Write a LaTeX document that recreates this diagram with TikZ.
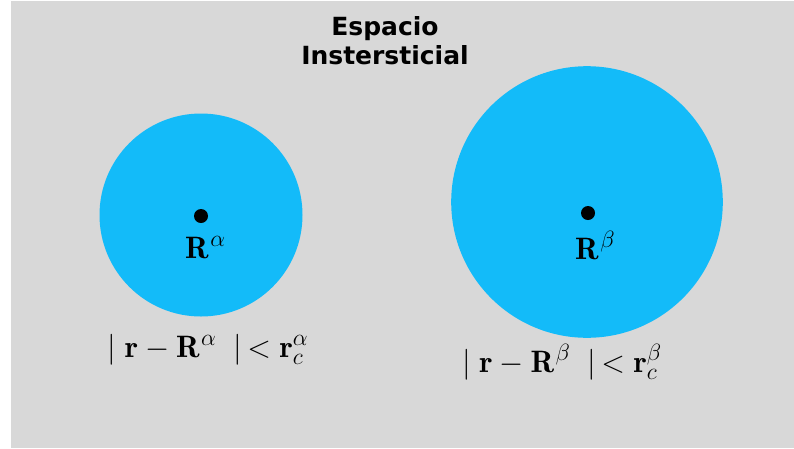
\documentclass[tikz,border=0pt]{standalone}
\usepackage{fix-cm}
\usepackage{amsmath}
\usepackage{fontspec}
\newfontfamily\titlefont{DejaVu Sans}
\DeclareMathSizes{31}{31}{23.5}{17}
\definecolor{bggray}{HTML}{D8D8D8}
\definecolor{sphereblue}{HTML}{13BBF9}
\tikzset{
  sphere/.style={fill=sphereblue, draw=none},
  centerdot/.style={fill=black, draw=none},
  titletext/.style={font=\titlefont\bfseries\fontsize{25}{29}\selectfont, inner sep=0pt, anchor=base},
  mathlabel/.style={font=\fontsize{31}{37}\selectfont, inner sep=0pt, anchor=base west},
  condition/.style={font=\fontsize{31}{37}\selectfont, inner sep=0pt, anchor=base}
}
\begin{document}
\begin{tikzpicture}[x=1pt,y=-1pt]
\useasboundingbox (0,0) rectangle (794,448);
\fill[white] (0,0) rectangle (794,448);
\fill[bggray] (11,1) rectangle (794,448);
% spheres
\fill[sphere] (201,215) circle[radius=101.5];
\fill[sphere] (587,202) circle[radius=135.8];
% centres
\fill[centerdot] (201,216) circle[radius=7];
\fill[centerdot] (588,213) circle[radius=7];
% title
\node[titletext] (title1) at (385,35) {Espacio};
\node[titletext] (title2) at (385,64) {Instersticial};
% labels
\node[mathlabel] (ralpha) at (185,258) {$\mathbf{R}^{\kern1.5pt\alpha}$};
\node[mathlabel] (rbeta) at (575,259) {$\mathbf{R}^{\kern1.5pt\beta}$};
\node[condition] (condalpha) at (208,357) {$\mid\mathbf{r}-\mathbf{R}^{\kern1.5pt\alpha}\;\mid\,<\mathbf{r}_c^{\alpha}$};
\node[condition] (condbeta) at (562,372) {$\mid\mathbf{r}-\mathbf{R}^{\kern1.5pt\beta}\;\mid\,<\mathbf{r}_c^{\beta}$};
\end{tikzpicture}
\end{document}
